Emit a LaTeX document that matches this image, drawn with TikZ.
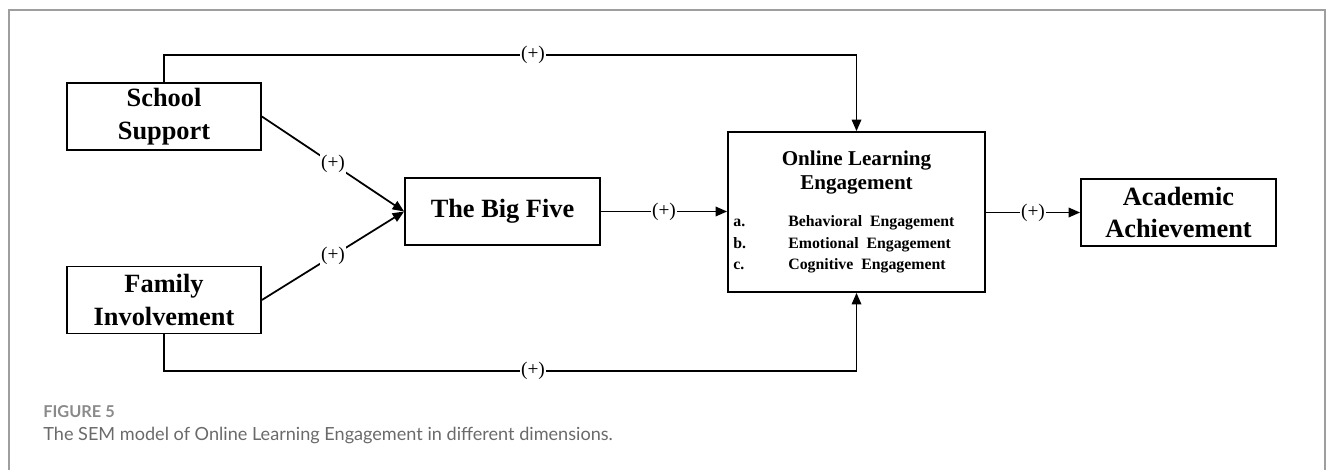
\documentclass[tikz,border=0pt]{standalone}
\usepackage{fontspec}
\setmainfont{Liberation Serif}
\newfontfamily\capfont{Lato}
\usepackage{tikz}
\usetikzlibrary{arrows.meta, positioning, calc}
\definecolor{framegray}{gray}{0.62}
\definecolor{figgray}{HTML}{8A8A8A}
\definecolor{capgray}{HTML}{6A6A6A}

\begin{document}
\begin{tikzpicture}[
    x=0.2mm, y=-0.2mm,
    box/.style={draw, line width=1pt, minimum width=3.88cm, minimum height=1.34cm, align=center, font=\fontsize{15}{18.5}\selectfont\bfseries, inner sep=2pt},
    lbl/.style={font=\fontsize{11}{12}\selectfont, inner sep=0.5pt},
    arrow/.style={-{Triangle[length=2.3mm, width=1.9mm]}, line width=1pt}
]
\useasboundingbox (0,0) rectangle (1333,470);
\draw[framegray, line width=0.8pt] (9,470) -- (9,10) -- (1325,10) -- (1325,470);

\node[box] (school) at (164,116.5) {School\\Support};
\node[box] (family) at (164,300) {Family\\Involvement};
\node[box, minimum width=3.9cm] (bigfive) at (502.5,211.5) {The Big Five};
\node[box, minimum width=5.14cm, minimum height=3.2cm] (ole) at (856.5,212) {};
\node[box, minimum width=3.9cm] (acad) at (1178.5,212.5) {Academic\\Achievement};

% inside the engagement box
\node[font=\fontsize{12}{13.6}\selectfont\bfseries, align=center, inner sep=0pt, below=0.38cm of ole.north] (oletitle) {Online Learning\\Engagement};
\node[font=\fontsize{9}{12.2}\selectfont\bfseries, inner sep=0pt, anchor=base west] (olelist) at (733,227) {%
  \begin{tabular}[t]{@{}p{1.1cm}@{}l@{}}
  a. & Behavioral\hspace{0.5em}Engagement\\
  b. & Emotional\hspace{0.5em}Engagement\\
  c. & Cognitive\hspace{0.5em}Engagement
  \end{tabular}};

% path labels on the long routes
\node[lbl] (toplbl) at (533,55) {(+)};
\node[lbl] (botlbl) at (533,371) {(+)};

\draw[arrow] (school.east) -- node[lbl, fill=white] {(+)} (bigfive.west);
\draw[arrow] (family.east) -- node[lbl, fill=white] {(+)} (bigfive.west);
\draw[arrow] (bigfive.east) -- node[lbl, fill=white] {(+)} (ole.west |- bigfive.east);
\draw[arrow] (ole.east |- acad.west) -- node[lbl, fill=white] {(+)} (acad.west);
\draw[line width=1pt] (school.north) |- (toplbl.west);
\draw[arrow] (toplbl.east) -| (ole.north);
\draw[line width=1pt] (family.south) |- (botlbl.west);
\draw[arrow] (botlbl.east) -| (ole.south);

% caption
\node[anchor=west, inner sep=0pt, text=figgray, font=\capfont\bfseries\fontsize{9.3}{10}\selectfont] (figno) at (43,412) {FIGURE 5};
\node[anchor=west, inner sep=0pt, text=capgray, font=\capfont\fontsize{10.3}{12}\selectfont] (figcap) at (43,435) {The SEM model of Online Learning Engagement in different dimensions.};
\end{tikzpicture}
\end{document}
